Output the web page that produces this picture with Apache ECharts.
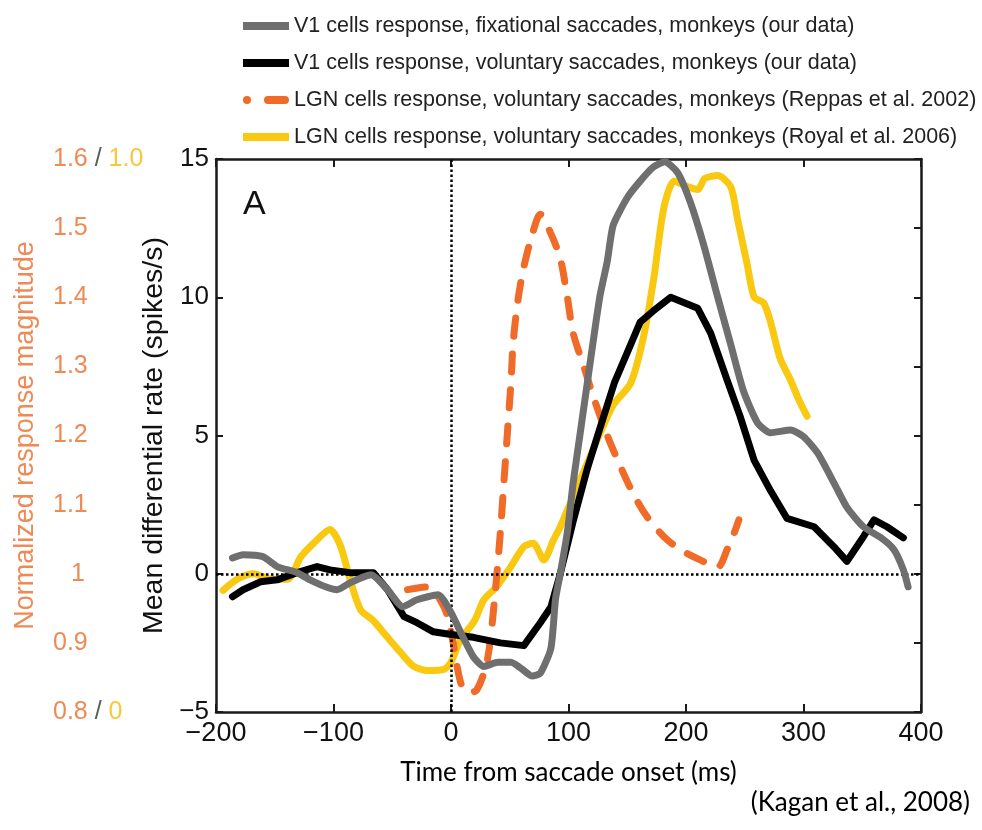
<!DOCTYPE html>
<html>
<head>
<meta charset="utf-8">
<script src="https://cdn.jsdelivr.net/npm/echarts@6/dist/echarts.min.js"></script>
<style>
html,body{margin:0;padding:0;background:#fff;}
#chart{width:982px;height:830px;}
</style>
</head>
<body>
<div id="chart"></div>
<script>
// ---- tick labels ----
const xTickLabels = ['\u2212200', '\u2212100', '0', '100', '200', '300', '400'];
const yTickLabels = ['\u22125', '0', '5', '10', '15'];
const normTickLabels = ['0.8 / 0', '0.9', '1', '1.1', '1.2', '1.3', '1.4', '1.5', '1.6 / 1.0'];

// ---- series names ----
const seriesNames = [
  'V1 cells response, fixational saccades, monkeys (our data)',
  'V1 cells response, voluntary saccades, monkeys (our data)',
  'LGN cells response, voluntary saccades, monkeys (Reppas et al. 2002)',
  'LGN cells response, voluntary saccades, monkeys (Royal et al. 2006)'
];

// ---- data: [time (ms), value] ----
// V1 fixational saccades (spikes/s)
const v1Fixational = [
  [-186,0.57],[-177,0.69],[-160,0.62],[-148,0.26],[-131,0.04],[-120,-0.22],[-105,-0.5],[-97,-0.58],
  [-86,-0.33],[-68,-0.04],[-54,-0.58],[-41,-1.19],[-29,-0.94],[-11,-0.76],[0,-1.4],[8,-2.1],
  [19,-3.0],[28,-3.35],[40,-3.2],[51,-3.2],[62,-3.5],[69,-3.7],[76,-3.6],[85,-2.7],[89,-0.9],
  [93,0.0],[99,1.5],[104,3.3],[110,5.1],[116,6.9],[122,8.7],[127,10.1],[133,11.3],[138,12.6],
  [150,13.6],[161,14.2],[172,14.7],[182,14.9],[193,14.5],[204,13.4],[215,11.9],[227,10.0],
  [238,8.3],[249,6.6],[261,5.45],[272,5.1],[289,5.2],[300,4.96],[312,4.37],[326,3.28],
  [337,2.4],[351,1.7],[366,1.3],[377,0.87],[385,0.14],[389,-0.47]
];
// V1 voluntary saccades (spikes/s)
const v1Voluntary = [
  [-186,-0.83],[-177,-0.58],[-162,-0.29],[-148,-0.22],[-131,0.04],[-114,0.26],[-103,0.14],
  [-86,0.04],[-66,0.04],[-54,-0.58],[-40,-1.55],[-29,-1.77],[-15,-2.1],[0,-2.2],[19,-2.3],
  [42,-2.5],[62,-2.6],[76,-1.77],[85,-1.2],[93,0.0],[104,1.9],[116,3.8],[127,5.3],[139,6.9],
  [150,8.0],[161,9.1],[172,9.5],[187,10.0],[210,9.6],[221,8.7],[235,7.0],[246,5.7],[258,4.1],
  [272,3.0],[286,2.0],[309,1.7],[326,0.97],[337,0.45],[351,1.34],[360,1.95],[371,1.7],[385,1.3]
];
// LGN Reppas et al. 2002 (normalized response magnitude)
const lgnReppas = [
  [-37,0.977],[-20,0.981],[-6,0.952],[0,0.916],[8,0.844],[14,0.828],[22,0.832],[31,0.876],
  [37,0.962],[42,1.06],[45,1.132],[48,1.204],[51,1.276],[53,1.336],[57,1.396],[62,1.444],
  [70,1.496],[76,1.52],[85,1.492],[93,1.456],[99,1.40],[104,1.348],[113,1.30],[122,1.252],
  [133,1.20],[144,1.156],[155,1.116],[167,1.082],[181,1.054],[195,1.035],[212,1.02],
  [227,1.01],[235,1.035],[241,1.059],[245,1.078]
];
// LGN Royal et al. 2006 (normalized, 0..1)
const lgnRoyal = [
  [-194,0.22],[-182,0.24],[-168,0.25],[-153,0.24],[-139,0.24],[-128,0.28],[-117,0.305],[-103,0.33],
  [-94,0.30],[-86,0.24],[-77,0.185],[-66,0.165],[-54,0.135],[-43,0.108],[-32,0.083],[-20,0.075],
  [-6,0.077],[0,0.09],[8,0.13],[20,0.165],[28,0.203],[39,0.227],[51,0.263],[62,0.299],[70,0.305],
  [79,0.275],[87,0.31],[93,0.335],[104,0.39],[116,0.45],[127,0.505],[138,0.555],[153,0.595],
  [164,0.68],[173,0.79],[181,0.91],[190,0.96],[201,0.95],[210,0.945],[216,0.965],[227,0.97],
  [238,0.95],[244,0.89],[252,0.81],[258,0.75],[266,0.74],[272,0.705],[280,0.64],[289,0.60],
  [297,0.56],[303,0.535]
];

const FONT = "'Liberation Sans', Arial, Helvetica, sans-serif";
const ORANGE = '#F06A28';
const ORANGE_TXT = '#EE8A55';
const YELLOW = '#F9C810';
const GRAY = '#6F6F6F';
const AX = '#1a1a1a';
const DASH_ICON = 'path://M4,0 A4,4 0 0 1 4,8 A4,4 0 0 1 4,0 Z M25,0 L42,0 A4,4 0 0 1 42,8 L25,8 A4,4 0 0 1 25,0 Z';
const BAR_ICON = 'path://M0,0 L46,0 L46,8 L0,8 Z';

const chart = echarts.init(document.getElementById('chart'), null, {renderer: 'canvas'});

const frameAxisLine = {show: true, onZero: false, lineStyle: {color: AX, width: 2.5}};

const option = {
  animation: false,
  backgroundColor: '#fff',
  grid: {left: 216, right: 61, top: 159, bottom: 118, containLabel: false},
  legend: {
    orient: 'vertical',
    left: 238,
    top: 10,
    itemWidth: 46,
    itemHeight: 8,
    itemGap: 15,
    data: [
      {name: seriesNames[0], icon: BAR_ICON},
      {name: seriesNames[1], icon: BAR_ICON},
      {name: seriesNames[2], icon: DASH_ICON},
      {name: seriesNames[3], icon: BAR_ICON}
    ],
    textStyle: {fontFamily: FONT, fontSize: 21.5, color: '#222'}
  },
  graphic: [
    {type: 'text', left: 243, top: 188, style: {text: 'A', fontFamily: FONT, fontSize: 34, fill: '#111'}},
    {type: 'text', right: 12, top: 790, style: {text: '(Kagan et al., 2008)', fontFamily: "Lato, 'Open Sans', sans-serif", fontSize: 26, fill: '#000'}}
  ],
  xAxis: [
    {
      type: 'value', min: -200, max: 400, interval: 100, position: 'bottom',
      axisLine: frameAxisLine,
      axisTick: {show: true, inside: true, length: 8, lineStyle: {color: AX, width: 2}},
      splitLine: {show: false},
      axisLabel: {
        margin: 8, fontFamily: FONT, fontSize: 27, color: '#111',
        formatter: v => xTickLabels[Math.round((v + 200) / 100)]
      },
      name: 'Time from saccade onset (ms)', nameLocation: 'middle', nameGap: 48,
      nameTextStyle: {fontFamily: "Lato, 'Open Sans', sans-serif", fontSize: 26, color: '#000'}
    },
    {
      type: 'value', min: -200, max: 400, interval: 100, position: 'top',
      axisLine: frameAxisLine,
      axisTick: {show: true, inside: true, length: 8, lineStyle: {color: AX, width: 2}},
      axisLabel: {show: false}, splitLine: {show: false}
    }
  ],
  yAxis: [
    {
      type: 'value', min: -5, max: 15, interval: 5, position: 'left',
      axisLine: frameAxisLine,
      axisTick: {show: true, inside: true, length: 7, lineStyle: {color: AX, width: 2}},
      splitLine: {show: false},
      axisLabel: {
        margin: 7, fontFamily: FONT, fontSize: 26, color: '#111',
        formatter: v => yTickLabels[Math.round((v + 5) / 5)]
      },
      name: 'Mean differential rate (spikes/s)', nameLocation: 'middle', nameGap: 35,
      nameTextStyle: {fontFamily: FONT, fontSize: 28.5, color: '#111'}
    },
    {
      type: 'value', min: 0.8, max: 1.6, interval: 0.1, position: 'left', offset: 150,
      axisLine: {show: false}, axisTick: {show: false}, splitLine: {show: false},
      axisLabel: {
        margin: 13, align: 'left', fontFamily: FONT, fontSize: 25, color: ORANGE_TXT,
        formatter: v => {
          const i = Math.round((v - 0.8) / 0.1);
          const t = normTickLabels[i];
          if (i === 0) return '{o|0.8} {s|/} {y|0}';
          if (i === 8) return '{o|1.6} {s|/} {y|1.0}';
          if (t === '1') return '{p|1}';
          return '{o|' + t + '}';
        },
        rich: {
          o: {color: ORANGE_TXT, fontFamily: FONT, fontSize: 25},
          p: {color: ORANGE_TXT, fontFamily: FONT, fontSize: 25, padding: [0, 0, 0, 18]},
          s: {color: '#556055', fontFamily: FONT, fontSize: 25},
          y: {color: '#F7C83A', fontFamily: FONT, fontSize: 25}
        }
      },
      name: 'Normalized response magnitude', nameLocation: 'middle', nameGap: 27,
      nameTextStyle: {fontFamily: FONT, fontSize: 27, color: ORANGE_TXT}
    },
    {
      type: 'value', min: 0, max: 1, position: 'left', show: false
    },
    {
      type: 'value', min: -5, max: 15, interval: 2.5, position: 'right',
      axisLine: frameAxisLine,
      axisTick: {show: true, inside: true, length: 7, lineStyle: {color: AX, width: 2}},
      axisLabel: {show: false}, splitLine: {show: false}
    }
  ],
  series: [
    {
      name: seriesNames[3], type: 'line', xAxisIndex: 0, yAxisIndex: 2,
      data: lgnRoyal, symbol: 'none', smooth: 0.25, z: 2,
      lineStyle: {color: YELLOW, width: 7, cap: 'round', join: 'round'},
      itemStyle: {color: YELLOW}
    },
    {
      name: seriesNames[2], type: 'line', xAxisIndex: 0, yAxisIndex: 1,
      data: lgnReppas, symbol: 'none', smooth: 0.3, z: 3,
      lineStyle: {color: ORANGE, width: 7, type: [18, 18], cap: 'round', join: 'round'},
      itemStyle: {color: ORANGE}
    },
    {
      name: seriesNames[1], type: 'line', xAxisIndex: 0, yAxisIndex: 0,
      data: v1Voluntary, symbol: 'none', smooth: false, z: 4,
      lineStyle: {color: '#000', width: 7, cap: 'round', join: 'round'},
      itemStyle: {color: '#000'},
      markLine: {
        silent: true, symbol: ['none', 'none'], label: {show: false}, animation: false,
        lineStyle: {color: '#000', type: [2.5, 2.5], width: 2.5},
        data: [{xAxis: 0}, {yAxis: 0}]
      }
    },
    {
      name: seriesNames[0], type: 'line', xAxisIndex: 0, yAxisIndex: 0,
      data: v1Fixational, symbol: 'none', smooth: 0.2, z: 5,
      lineStyle: {color: GRAY, width: 7, cap: 'round', join: 'round'},
      itemStyle: {color: GRAY}
    }
  ]
};
chart.setOption(option);
</script>
</body>
</html>
